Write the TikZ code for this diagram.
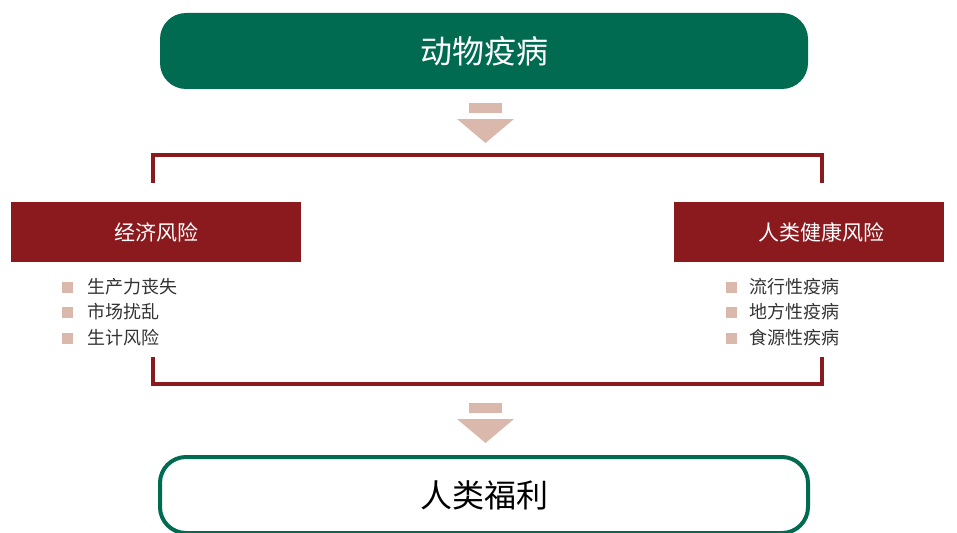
\documentclass[tikz,border=0pt]{standalone}
\usepackage{fontspec}
\setmainfont{Noto Sans CJK SC}
\newfontfamily\cjk{Noto Sans CJK SC}
\definecolor{dgreen}{HTML}{006B50}
\definecolor{dred}{HTML}{8B1A1E}
\definecolor{pink}{HTML}{DBB8AC}
\definecolor{txt}{HTML}{333333}
\begin{document}
\begin{tikzpicture}[x=1pt,y=-1pt,
  titlebox/.style={rounded corners=26pt,minimum width=648pt,minimum height=76pt,inner sep=0pt},
  redbox/.style={fill=dred,minimum height=60pt,inner sep=0pt},
  redtext/.style={text=white,inner sep=0pt,font=\cjk\fontsize{21}{24}\selectfont},
  bracket/.style={draw=dred,line width=4pt},
  item/.style={anchor=west,text=txt,inner sep=0pt,font=\cjk\fontsize{18}{20}\selectfont},
  sq/.style={fill=pink,minimum size=11pt,inner sep=0pt},
  arr/.style={fill=pink}]
\useasboundingbox (0,0) rectangle (957,532);
% top box
\node[titlebox,fill=dgreen,text=white,font=\cjk\fontsize{32}{36}\selectfont] (top) at (484,51) {动物疫病};
% arrow 1
\fill[arr] (469,103) rectangle (502,113);
\fill[arr] (457,119) -- (514,119) -- (485.5,143) -- cycle;
% upper bracket
\coordinate (ul) at (153,183);
\coordinate (ur) at (822,183);
\draw[bracket] (ul) -- (153,155) -- (822,155) -- (ur);
% red boxes
\node[redbox,minimum width=290pt] (econ) at (156,232) {};
\node[redtext] (econt) at (156,232) {经济风险};
\node[redbox,minimum width=270pt] (health) at (809,232) {};
\node[redtext] (healtht) at (821,232) {人类健康风险};
% left bullets
\foreach \t/\y [count=\i] in {生产力丧失/287,市场扰乱/312,生计风险/338}{
  \node[sq] (ls\i) at (67,\y) {};
  \node[item] (lt\i) at (87,\y) {\t};
}
\foreach \t/\y [count=\i] in {流行性疫病/287,地方性疫病/312,食源性疾病/338}{
  \node[sq] (rs\i) at (731,\y) {};
  \node[item] (rt\i) at (749,\y) {\t};
}
% lower bracket
\coordinate (ll) at (153,357);
\coordinate (lr) at (822,357);
\draw[bracket] (ll) -- (153,384) -- (822,384) -- (lr);
% arrow 2
\fill[arr] (469,403) rectangle (502,413);
\fill[arr] (457,419) -- (514,419) -- (485.5,443) -- cycle;
% bottom box
\node[titlebox,draw=dgreen,line width=4pt,fill=white,text=black,minimum width=648pt,minimum height=76pt,font=\cjk\fontsize{32}{36}\selectfont] (bot) at (484,495) {人类福利};
\end{tikzpicture}
\end{document}
